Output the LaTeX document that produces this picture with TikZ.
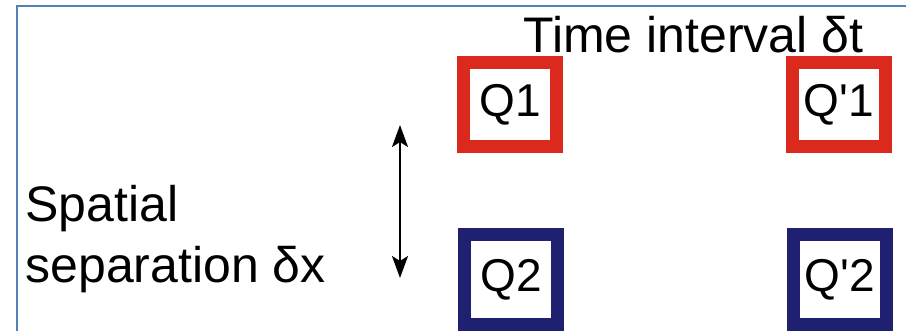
\documentclass[tikz,border=0pt]{standalone}
\usepackage{fontspec}
\setmainfont{Liberation Sans}
\usetikzlibrary{arrows.meta}
\definecolor{frameblue}{RGB}{79,129,189}
\definecolor{qred}{RGB}{220,41,30}
\definecolor{qnavy}{RGB}{31,33,112}
\begin{document}
\begin{tikzpicture}[x=0.5pt, y=-0.5pt,
  qbox/.style={shape=rectangle, line width=6.5pt, minimum width=46.5pt, inner sep=0pt, outer sep=0pt, font=\fontsize{23}{27}\selectfont},
  label text/.style={inner sep=0pt, font=\fontsize{25}{30.5}\selectfont},
  sep arrow/.style={line width=1.1pt, {Stealth[length=11pt,width=8pt,inset=2.5pt]}-{Stealth[length=11pt,width=8pt,inset=2.5pt]}}]
\useasboundingbox (0,0) rectangle (906,331);
\clip (0,0) rectangle (906,331);
\draw[frameblue, line width=1.2pt] (17,345) |- (920,6);
\node[label text, anchor=base west] (time) at (523,53) {Time interval δt};
\node[label text, anchor=base west, align=left] (space) at (25,283) {Spatial\\separation δx};
\node[qbox, draw=qred, minimum height=41.75pt] (Q1) at (510,104.5) {Q1};
\node[qbox, draw=qred, minimum height=41.75pt] (Q1p) at (839,104.5) {Q\textquotesingle1};
\node[qbox, draw=qnavy, minimum height=45pt] (Q2) at (511,280) {Q2};
\node[qbox, draw=qnavy, minimum height=45pt] (Q2p) at (840,280) {Q\textquotesingle2};
\coordinate (sepTop) at (400,125);
\coordinate (sepBot) at (400,278);
\draw[sep arrow] (sepTop) -- (sepBot);
\end{tikzpicture}
\end{document}
